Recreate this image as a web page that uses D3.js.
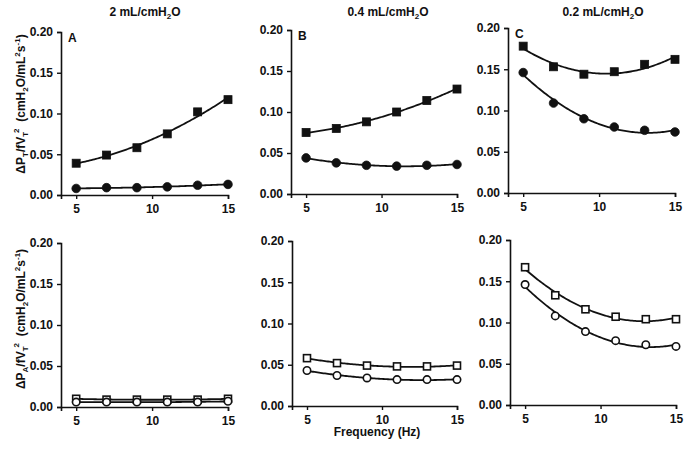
<!DOCTYPE html>
<html><head><meta charset="utf-8">
<script src="https://cdn.jsdelivr.net/npm/d3@7"></script>
<style>
body{margin:0;background:#fff;}
svg text{font-family:Arial,"Liberation Sans",sans-serif;font-weight:bold;fill:#111;}
</style></head>
<body><svg id="c" width="685" height="449"></svg>
<script>
const freq = [5, 7, 9, 11, 13, 15];
const xTicks = [5, 10, 15];
const yTicks = [0, 0.05, 0.10, 0.15, 0.20];
const titles = ["2 mL/cmH2O", "0.4 mL/cmH2O", "0.2 mL/cmH2O"];
const letters = ["A", "B", "C"];

// top row: total (filled), bottom row: alveolar (open)
const topSquares = [
  [0.039, 0.049, 0.058, 0.075, 0.102, 0.117],
  [0.075, 0.080, 0.088, 0.100, 0.114, 0.128],
  [0.178, 0.153, 0.144, 0.147, 0.156, 0.162]
];
const topCircles = [
  [0.008, 0.009, 0.009, 0.010, 0.012, 0.013],
  [0.044, 0.038, 0.035, 0.034, 0.035, 0.036],
  [0.146, 0.109, 0.090, 0.080, 0.076, 0.074]
];
const botSquares = [
  [0.010, 0.009, 0.009, 0.009, 0.009, 0.010],
  [0.058, 0.052, 0.049, 0.048, 0.048, 0.049],
  [0.167, 0.133, 0.116, 0.107, 0.104, 0.104]
];
const botCircles = [
  [0.006, 0.006, 0.006, 0.006, 0.006, 0.007],
  [0.043, 0.037, 0.034, 0.032, 0.032, 0.032],
  [0.146, 0.108, 0.089, 0.078, 0.073, 0.071]
];

const svg = d3.select("#c");
const FS = 12;

// panel boxes: [left(x=4), right(x=15), top(y=0.2), bottom(y=0)]
const boxes = [
  [[61, 228, 32, 195], [291, 457, 30, 194], [508, 675, 28, 193]],
  [[61, 228, 243, 407], [292, 457, 241, 406], [510, 676, 240, 405]]
];

function quadFit(xs, ys) {
  let S = [[0,0,0],[0,0,0],[0,0,0]], T = [0,0,0];
  xs.forEach((x, i) => {
    const p = [1, x, x*x];
    for (let r = 0; r < 3; r++) { T[r] += p[r]*ys[i]; for (let c = 0; c < 3; c++) S[r][c] += p[r]*p[c]; }
  });
  const M = S.map((row, i) => row.concat([T[i]]));
  for (let i = 0; i < 3; i++) {
    let piv = i; for (let k = i+1; k < 3; k++) if (Math.abs(M[k][i]) > Math.abs(M[piv][i])) piv = k;
    [M[i], M[piv]] = [M[piv], M[i]];
    for (let k = i+1; k < 3; k++) { const f = M[k][i]/M[i][i]; for (let j = i; j < 4; j++) M[k][j] -= f*M[i][j]; }
  }
  const co = [0,0,0];
  for (let i = 2; i >= 0; i--) { let s = M[i][3]; for (let j = i+1; j < 3; j++) s -= M[i][j]*co[j]; co[i] = s/M[i][i]; }
  return x => co[0] + co[1]*x + co[2]*x*x;
}

function panel(row, col, sq, ci, filled) {
  const [l, r, t, b] = boxes[row][col];
  const x = d3.scaleLinear().domain([4, 15]).range([l, r]);
  const y = d3.scaleLinear().domain([0, 0.20]).range([b, t]);
  const g = svg.append("g");
  const ax = g.append("g").attr("transform", `translate(0,${b})`)
    .call(d3.axisBottom(x).tickValues(xTicks).tickSize(4).tickPadding(5).tickFormat(d3.format("d")));
  const ay = g.append("g").attr("transform", `translate(${l},0)`)
    .call(d3.axisLeft(y).tickValues(yTicks).tickSize(4).tickPadding(4).tickFormat(d3.format(".2f")));
  [ax, ay].forEach(a => {
    a.selectAll("path").attr("stroke", "#111").attr("stroke-width", 1.6);
    a.selectAll("line").attr("stroke", "#111").attr("stroke-width", 1.4);
    a.selectAll("text").attr("font-size", FS).attr("font-weight", "bold").attr("fill", "#111");
  });
  const line = d3.line().x(d => x(d[0])).y(d => y(d[1]));
  const samples = d3.range(5, 15.001, 0.1);
  [sq, ci].forEach(vals => {
    const f = quadFit(freq, vals);
    g.append("path").attr("d", line(samples.map(v => [v, f(v)])))
      .attr("fill", "none").attr("stroke", "#111").attr("stroke-width", 1.8);
  });
  const sz = filled ? 8 : 7;
  g.selectAll(".sq").data(freq.map((f, i) => [f, sq[i]])).join("rect")
    .attr("x", d => x(d[0]) - sz/2).attr("y", d => y(d[1]) - sz/2)
    .attr("width", sz).attr("height", sz)
    .attr("fill", filled ? "#111" : "#fff").attr("stroke", "#111").attr("stroke-width", filled ? 0.8 : 1.6);
  g.selectAll(".ci").data(freq.map((f, i) => [f, ci[i]])).join("circle")
    .attr("cx", d => x(d[0])).attr("cy", d => y(d[1])).attr("r", filled ? 4.3 : 3.7)
    .attr("fill", filled ? "#111" : "#fff").attr("stroke", "#111").attr("stroke-width", filled ? 0.8 : 1.6);
  if (row === 0) {
    g.append("text").attr("x", l + 7).attr("y", t + 10).attr("font-size", FS).text(letters[col]);
  }
}

for (let c = 0; c < 3; c++) {
  panel(0, c, topSquares[c], topCircles[c], true);
  panel(1, c, botSquares[c], botCircles[c], false);
}

const titleX = [145, 388, 603];
titles.forEach((tt, i) => {
  const t = svg.append("text").attr("x", titleX[i]).attr("y", 16).attr("text-anchor", "middle").attr("font-size", FS);
  const base = tt.replace("H2O", "");
  t.append("tspan").text(base + "H");
  t.append("tspan").text("2").attr("font-size", 8).attr("dy", 3);
  t.append("tspan").text("O").attr("dy", -3);
});

function ylabel(cy, sub) {
  const t = svg.append("text").attr("transform", `translate(25,${cy}) rotate(-90)`)
    .attr("text-anchor", "middle").attr("font-size", FS);
  t.append("tspan").text("\u0394P");
  t.append("tspan").text(sub).attr("font-size", 8).attr("dy", 3);
  t.append("tspan").text("/fV").attr("dy", -3);
  t.append("tspan").text("T").attr("font-size", 8).attr("dy", 3);
  t.append("tspan").text("2").attr("font-size", 8).attr("dy", -9).attr("dx", -1);
  t.append("tspan").text("\u00a0\u00a0(cmH").attr("dy", 6);
  t.append("tspan").text("2").attr("font-size", 8).attr("dy", 3);
  t.append("tspan").text("O/mL").attr("dy", -3);
  t.append("tspan").text("2").attr("font-size", 8).attr("dy", -5);
  t.append("tspan").text("s").attr("dy", 5);
  t.append("tspan").text("-1").attr("font-size", 8).attr("dy", -5);
  t.append("tspan").text(")").attr("dy", 5);
}
ylabel(104, "T");
ylabel(319, "A");

svg.append("text").attr("x", 377).attr("y", 436).attr("text-anchor", "middle").attr("font-size", FS).text("Frequency (Hz)");
</script></body></html>
